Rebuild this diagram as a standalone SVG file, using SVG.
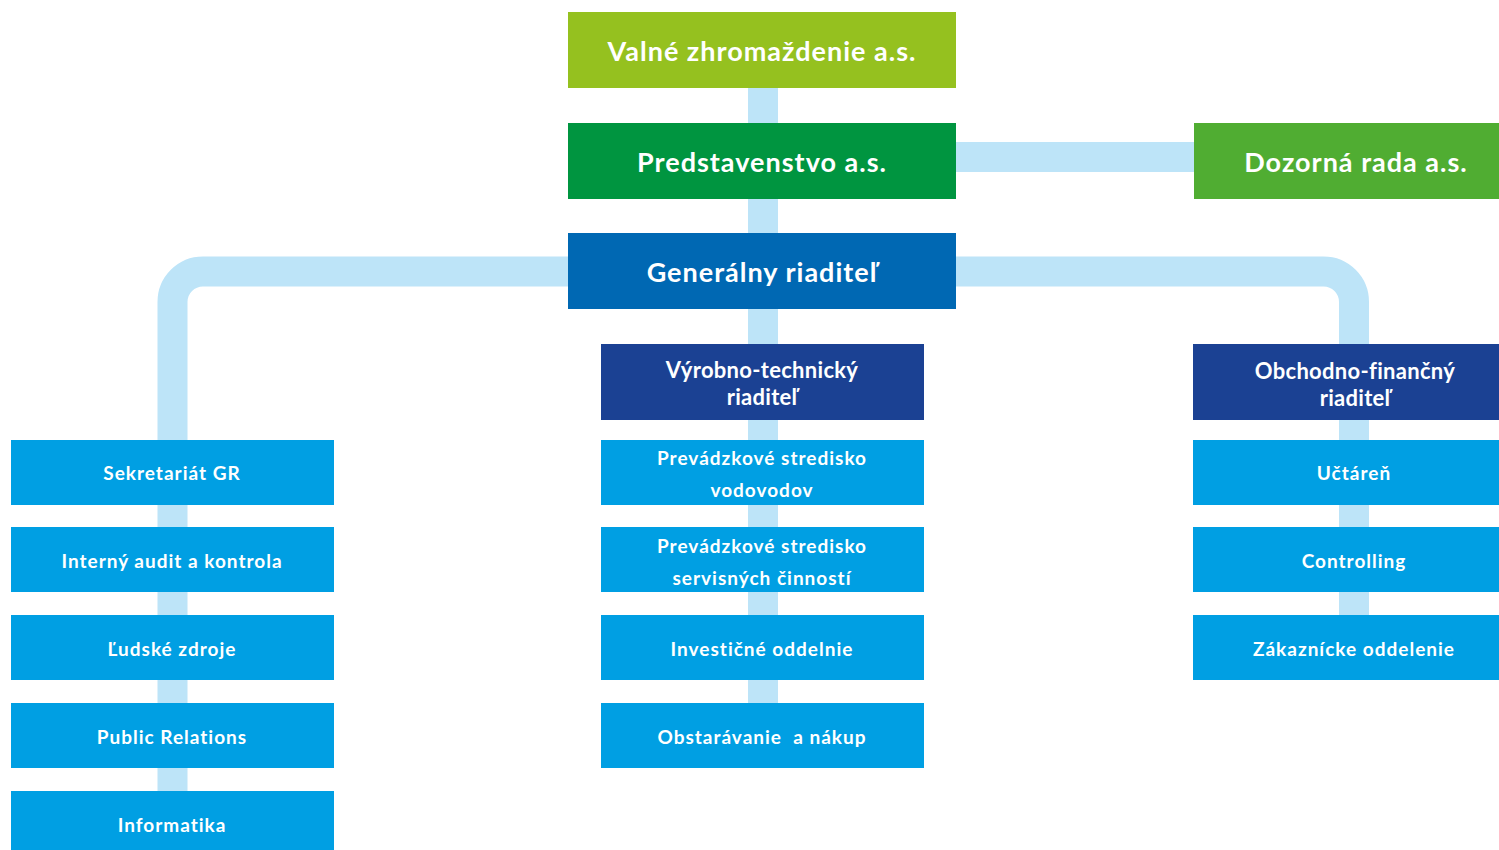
<svg xmlns="http://www.w3.org/2000/svg" width="1499" height="850" viewBox="0 0 1499 850">
<style>
.c{fill:none;stroke:#bde4f8;stroke-width:30}
.t{fill:#fff;font-family:Lato,"Liberation Sans",sans-serif;font-weight:700;text-anchor:middle;dominant-baseline:central}
.big{font-size:27px;letter-spacing:1px}
.mid{font-size:22px;letter-spacing:0.3px}
.sm{font-size:19px;letter-spacing:1px}
.sub{fill:#009fe3}
.dir{fill:#1b4193}
</style>
<rect width="1499" height="850" fill="#fff"/>
<g id="connectors">
<path class="c" d="M763 88V344"/>
<path class="c" d="M956 157H1194"/>
<path class="c" d="M763 309V768"/>
<path class="c" d="M568 271.5H203A30.5 30.5 0 0 0 172.5 302V850"/>
<path class="c" d="M956 271.5H1323.5A30.5 30.5 0 0 1 1354 302V680"/>
</g>
<g id="valne"><rect x="568" y="12" width="388" height="76" fill="#95c11f"/><text class="t big" x="762" y="50">Valné zhromaždenie a.s.</text></g>
<g id="predstavenstvo"><rect x="568" y="123" width="388" height="76" fill="#009540"/><text class="t big" x="762" y="161">Predstavenstvo a.s.</text></g>
<g id="dozorna"><rect x="1194" y="123" width="323" height="76" fill="#50ad32"/><text class="t big" x="1356" y="161">Dozorná rada a.s.</text></g>
<g id="generalny"><rect x="568" y="233" width="388" height="76" fill="#0068b3"/><text class="t big" x="762" y="271">Generálny riaditeľ</text></g>
<g id="vyrobno"><rect class="dir" x="601" y="344" width="323" height="76"/><text class="t mid" x="762" y="369">Výrobno-technický</text><text class="t mid" x="762" y="396">riaditeľ</text></g>
<g id="obchodno"><rect class="dir" x="1193" y="344" width="323" height="76"/><text class="t mid" x="1355" y="370">Obchodno-finančný</text><text class="t mid" x="1355" y="397">riaditeľ</text></g>
<g id="sekretariat"><rect class="sub" x="11" y="440" width="323" height="65"/><text class="t sm" x="172" y="472.5">Sekretariát GR</text></g>
<g id="audit"><rect class="sub" x="11" y="527" width="323" height="65"/><text class="t sm" x="172" y="560">Interný audit a kontrola</text></g>
<g id="zdroje"><rect class="sub" x="11" y="615" width="323" height="65"/><text class="t sm" x="172" y="648">Ľudské zdroje</text></g>
<g id="pr"><rect class="sub" x="11" y="703" width="323" height="65"/><text class="t sm" x="172" y="736">Public Relations</text></g>
<g id="informatika"><rect class="sub" x="11" y="791" width="323" height="65"/><text class="t sm" x="172" y="824">Informatika</text></g>
<g id="vodovody"><rect class="sub" x="601" y="440" width="323" height="65"/><text class="t sm" x="762" y="457">Prevádzkové stredisko</text><text class="t sm" x="762" y="489">vodovodov</text></g>
<g id="servis"><rect class="sub" x="601" y="527" width="323" height="65"/><text class="t sm" x="762" y="545">Prevádzkové stredisko</text><text class="t sm" x="762" y="577">servisných činností</text></g>
<g id="investicne"><rect class="sub" x="601" y="615" width="323" height="65"/><text class="t sm" x="762" y="648">Investičné oddelnie</text></g>
<g id="obstaravanie"><rect class="sub" x="601" y="703" width="323" height="65"/><text class="t sm" x="762" y="736" xml:space="preserve">Obstarávanie  a nákup</text></g>
<g id="uctaren"><rect class="sub" x="1193" y="440" width="323" height="65"/><text class="t sm" x="1354" y="472.5">Učtáreň</text></g>
<g id="controlling"><rect class="sub" x="1193" y="527" width="323" height="65"/><text class="t sm" x="1354" y="560">Controlling</text></g>
<g id="zakaznicke"><rect class="sub" x="1193" y="615" width="323" height="65"/><text class="t sm" x="1354" y="648">Zákaznícke oddelenie</text></g>
</svg>
